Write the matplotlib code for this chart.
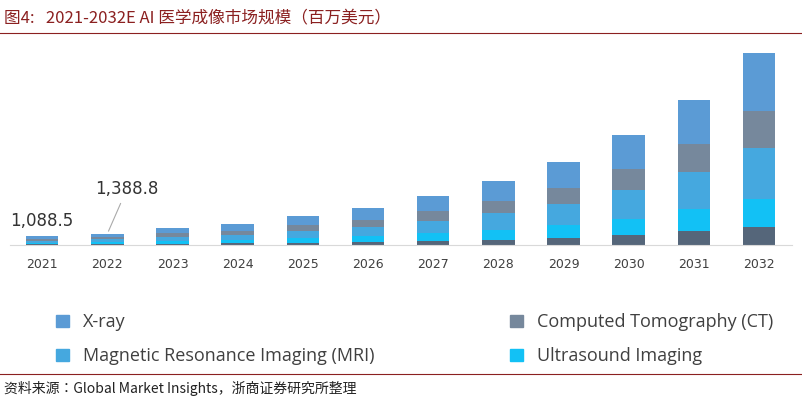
import matplotlib
matplotlib.use("Agg")
import matplotlib.pyplot as plt
from matplotlib.patches import Patch

CJK = ['Noto Sans CJK SC','Noto Sans CJK JP','Noto Sans CJK TC','Noto Sans CJK KR','DejaVu Sans']
plt.rcParams['font.family'] = CJK

years = ['2021','2022','2023','2024','2025','2026','2027','2028','2029','2030','2031','2032']
other = [98,125,185,230,315,400,530,690,900,1200,1700,2180]
ultrasound = [163,208,308,383,525,668,885,1155,1500,1995,2670,3390]
mri = [283,361,533,663,910,1157,1534,2002,2600,3458,4500,6160]
ct = [207,264,390,485,665,846,1121,1463,1900,2527,3280,4470]
xray = [337.5,430.8,634,789,1085,1379,1830,2390,3100,4120,5350,7000]
labels = ['1,088.5', '1,388.8']

fig = plt.figure(figsize=(8.02,4.04), dpi=100)
ax = fig.add_axes([0.012, 0.393, 0.975, 0.5])
x = range(len(years))
series = [(other,'#55667a'),(ultrasound,'#12c1f5'),(mri,'#45a8df'),(ct,'#76889c'),(xray,'#5b9bd5')]
bottom=[0]*len(years)
for vals,c in series:
    ax.bar(x, vals, 0.5, bottom=bottom, color=c, linewidth=0)
    bottom=[b+v for b,v in zip(bottom,vals)]
ax.set_xlim(-0.5, 11.5)
ax.set_ylim(0, max(bottom)*1.05)
ax.set_yticks([])
for s in ['top','right','left']:
    ax.spines[s].set_visible(False)
ax.spines['bottom'].set_color('#d9d9d9')
ax.set_xticks(list(x))
ax.set_xticklabels(years, fontsize=9, color='#404040', fontfamily='DejaVu Sans')
ax.tick_params(axis='x', length=0, pad=9)
ax.text(0, bottom[0]+700, labels[0], ha='center', va='bottom', fontsize=12, fontfamily='DejaVu Sans', color='#333')
ax.annotate(labels[1], xy=(1, bottom[1]), xytext=(1.3, bottom[1]+4300), ha='center', va='bottom',
            fontsize=12, fontfamily='DejaVu Sans', color='#333',
            arrowprops=dict(arrowstyle='-', color='#aaaaaa', lw=0.8))

handles=[Patch(color='#5b9bd5'),Patch(color='#45a8df'),Patch(color='#76889c'),Patch(color='#12c1f5')]
names=['X-ray','Magnetic Resonance Imaging (MRI)','Computed Tomography (CT)','Ultrasound Imaging']
fig.legend(handles, names, loc='upper left', bbox_to_anchor=(0.05,0.265), ncol=2, frameon=False,
           columnspacing=7.5, handlelength=0.7, handleheight=0.7, labelspacing=0.9,
           labelcolor='#404040', prop={'family':'Open Sans','size':13})

fig.text(0.005, 0.955, '图4:   2021-2032E AI 医学成像市场规模（百万美元）', fontsize=12, color='#8b2020', va='center')
fig.add_artist(plt.Line2D([0,1],[0.918,0.918], color='#8b2020', lw=0.8))
fig.add_artist(plt.Line2D([0,1],[0.075,0.075], color='#8b2020', lw=0.8))
fig.text(0.005, 0.038, '资料来源：Global Market Insights，浙商证券研究所整理', fontsize=10, color='#222', va='center')
fig.savefig('out.png', dpi=100)
